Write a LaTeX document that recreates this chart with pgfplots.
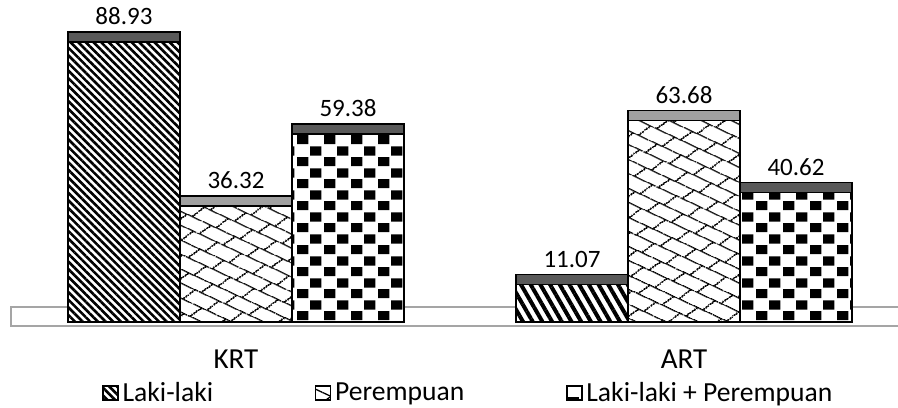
\documentclass[border=0pt]{standalone}
\usepackage{fontspec}
\setmainfont{Carlito}
\usepackage{pgfplots}
\pgfplotsset{compat=1.18}
\usetikzlibrary{patterns,patterns.meta}

\definecolor{capdark}{RGB}{89,89,89}
\definecolor{caplight}{RGB}{160,160,160}
\definecolor{floorgray}{RGB}{165,165,165}

\tikzdeclarepattern{
  name=weave, type=uncolored,
  bottom left={(0pt,0pt)}, top right={(13pt,13pt)},
  tile size={(13pt,13pt)},
  tile transformation={rotate=-25},
  code={
    \draw[line width=0.65pt] (-0.1pt,3.25pt) -- (13.1pt,3.25pt);
    \draw[line width=0.65pt] (-0.1pt,9.75pt) -- (13.1pt,9.75pt);
    \draw[line width=0.65pt] (1pt,3.25pt) -- (4.75pt,9.75pt);
    \draw[line width=0.65pt] (7.5pt,9.75pt) -- (9.375pt,13pt);
    \draw[line width=0.65pt] (9.375pt,0pt) -- (11.25pt,3.25pt);
  }
}
\tikzdeclarepattern{
  name=checks, type=uncolored,
  bottom left={(0pt,0pt)}, top right={(13.5pt,10.8pt)},
  tile size={(13.5pt,10.8pt)},
  code={
    \fill (0pt,0.4pt) rectangle (5.9pt,5pt);
    \fill (6.75pt,5.8pt) rectangle (12.65pt,10.4pt);
  }
}

\begin{document}
\begin{tikzpicture}
\useasboundingbox (0,0) rectangle (449pt,203.5pt);
\begin{axis}[
  at={(5.5pt,40.5pt)}, anchor=south west,
  scale only axis, width=443pt, height=163pt,
  xmin=-1.0089, xmax=6.9018, ymin=-1.283, ymax=103.3,
  axis line style={draw=none},
  ytick=\empty, xtick={1,5}, xticklabels={KRT,ART},
  major tick length=0pt,
  xticklabel style={font=\fontsize{14.5}{17}\selectfont, anchor=base, inner sep=0pt, yshift=-21pt},
  /pgf/number format/assume math mode=true,
  clip=false,
  legend columns=3,
  legend cell align=left,
  legend style={draw=none, fill=none, at={(0.5175,-0.2055)}, anchor=center,
    font=\fontsize{13.8}{16}\selectfont,
    /tikz/every even column/.append style={column sep=49pt}},
  legend image code/.code={\draw[#1, line width=0.5pt] (0pt,-3.5pt) rectangle (7.5pt,3.5pt);},
  every axis plot/.append style={ybar, bar width=1, bar shift=0pt, draw=black, line width=0.75pt},
  capstyle/.style={forget plot, y filter/.expression={y+4.171}, point meta=rawy,
    nodes near coords={\pgfmathprintnumber[fixed, fixed zerofill, precision=2]{\pgfplotspointmeta}},
    nodes near coords style={font=\fontsize{12.5}{14}\selectfont, anchor=south, inner sep=0pt, yshift=3pt, text=black}},
  bodystyle/.style={y filter/.expression={y+0.963}, preaction={fill=white}},
]
% floor
\draw[floorgray, line width=1pt, fill=white] (axis cs:-1.0089,-1.283) rectangle (axis cs:7.3,4.81);

% caps (3D tops)
\addplot[capstyle, fill=capdark] coordinates {(0,88.93) (4,11.07)};
\addplot[capstyle, fill=caplight] coordinates {(1,36.32) (5,63.68)};
\addplot[capstyle, fill=capdark] coordinates {(2,59.38) (6,40.62)};

% bodies
\addplot[bodystyle, pattern={Lines[angle=-45,distance=2.7pt,line width=1.3pt]}] coordinates {(0,88.93)};
\addlegendentry{Laki-laki}
\addplot[bodystyle, pattern=weave] coordinates {(1,36.32) (5,63.68)};
\addlegendentry{Perempuan}
\addplot[bodystyle, pattern=checks] coordinates {(2,59.38) (6,40.62)};
\addlegendentry{Laki-laki + Perempuan}
\addplot[bodystyle, forget plot, pattern={Lines[angle=-60,distance=4.2pt,line width=2pt]}] coordinates {(4,11.07)};
\end{axis}
\end{tikzpicture}
\end{document}
